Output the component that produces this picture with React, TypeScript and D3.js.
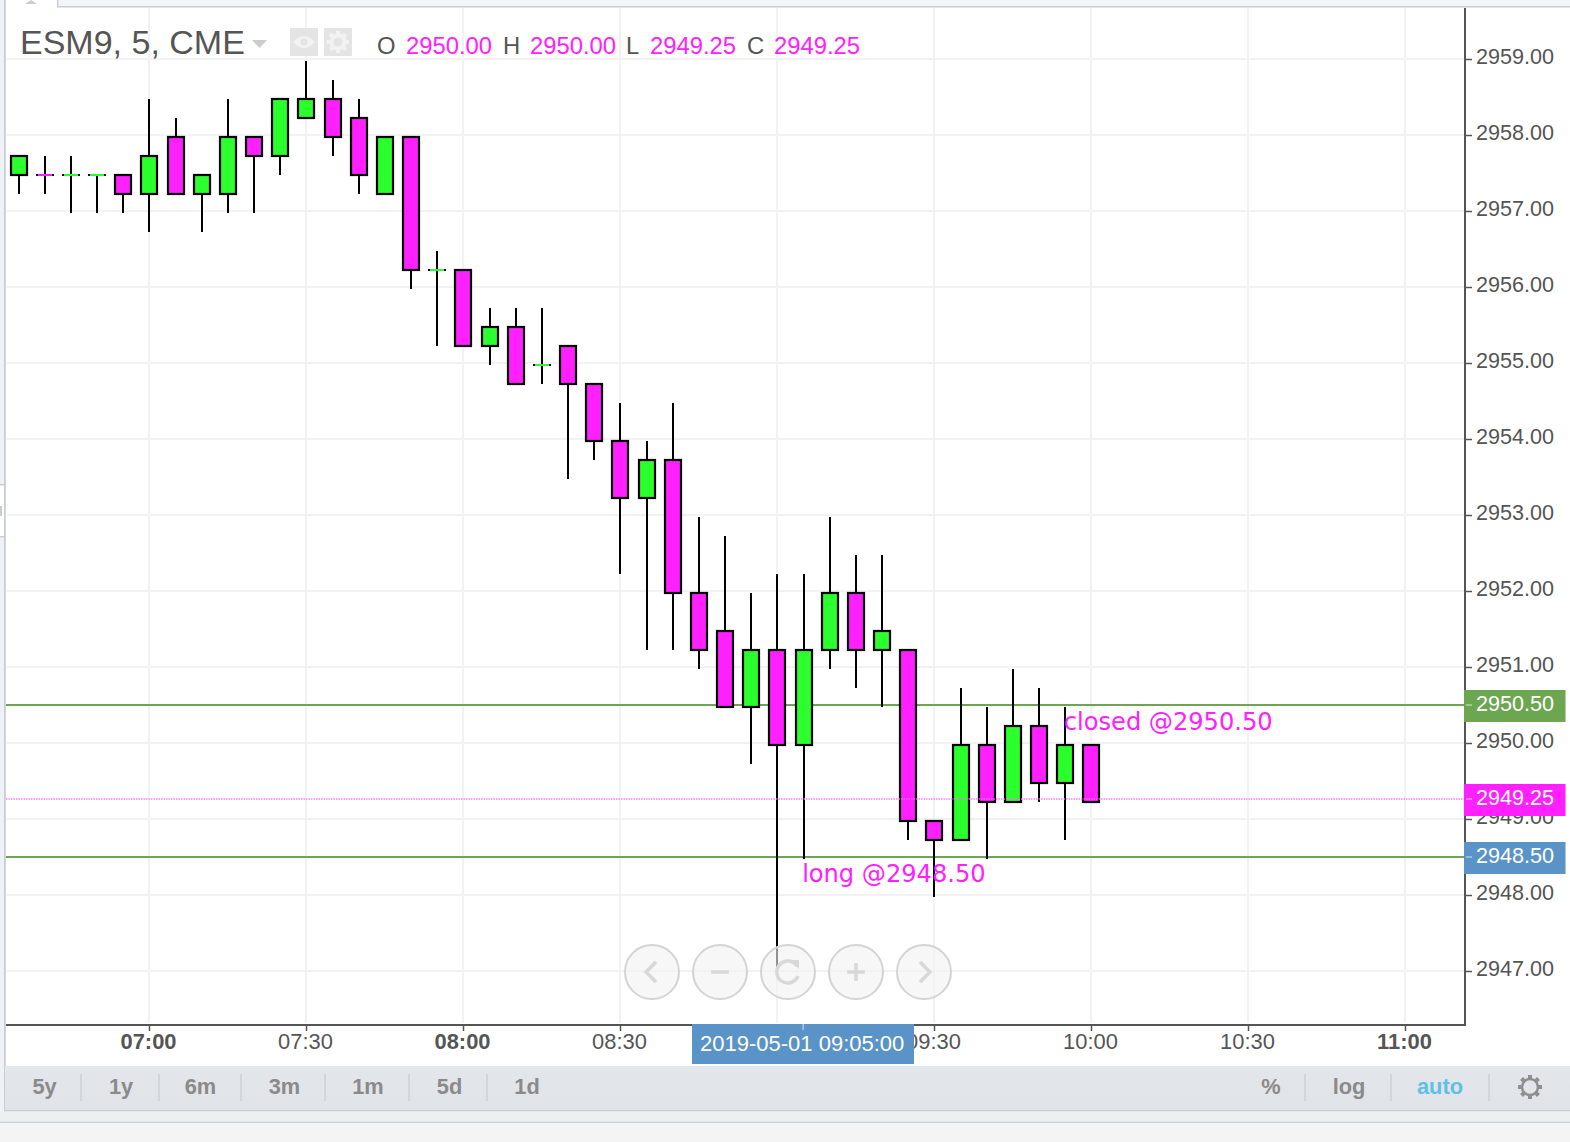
import React, { useRef, useEffect } from "react";
import * as d3 from "d3";

const width = 1570;
const height = 1142;

const times = [
  "06:35", "06:40", "06:45", "06:50", "06:55", "07:00", "07:05", "07:10", "07:15", "07:20", "07:25", "07:30", "07:35", "07:40",
  "07:45", "07:50", "07:55", "08:00", "08:05", "08:10", "08:15", "08:20", "08:25", "08:30", "08:35", "08:40", "08:45", "08:50",
  "08:55", "09:00", "09:05", "09:10", "09:15", "09:20", "09:25", "09:30", "09:35", "09:40", "09:45", "09:50", "09:55", "10:00",
];
const opens = [
  2957.5, 2957.5, 2957.5, 2957.5, 2957.5, 2957.25, 2958, 2957.25, 2957.25, 2958, 2957.75, 2958.25, 2958.5, 2958.25,
  2957.25, 2958, 2956.25, 2956.25, 2955.25, 2955.5, 2955, 2955.25, 2954.75, 2954, 2953.25, 2953.75, 2952, 2951.5,
  2950.5, 2951.25, 2950, 2951.25, 2952, 2951.25, 2951.25, 2949, 2948.75, 2950, 2949.25, 2950.25, 2949.5, 2950,
];
const highs = [
  2957.75, 2957.75, 2957.75, 2957.5, 2957.5, 2958.5, 2958.25, 2957.5, 2958.5, 2958, 2958.5, 2959, 2958.75, 2958.5,
  2958, 2958, 2956.5, 2956.25, 2955.75, 2955.75, 2955.75, 2955.25, 2954.75, 2954.5, 2954, 2954.5, 2953, 2952.75,
  2952, 2952.25, 2952.25, 2953, 2952.5, 2952.5, 2951.25, 2949, 2950.75, 2950.5, 2951, 2950.75, 2950.5, 2950,
];
const lows = [
  2957.25, 2957.25, 2957, 2957, 2957, 2956.75, 2957.25, 2956.75, 2957, 2957, 2957.5, 2958.25, 2957.75, 2957.25,
  2957.25, 2956, 2955.25, 2955.25, 2955, 2954.75, 2954.75, 2953.5, 2953.75, 2952.25, 2951.25, 2951.25, 2951, 2950.5,
  2949.75, 2947, 2948.5, 2951, 2950.75, 2950.5, 2948.75, 2948, 2948.75, 2948.5, 2949.25, 2949.25, 2948.75, 2949.25,
];
const closes = [
  2957.75, 2957.5, 2957.5, 2957.5, 2957.25, 2957.75, 2957.25, 2957.5, 2958, 2957.75, 2958.5, 2958.5, 2958, 2957.5,
  2958, 2956.25, 2956.25, 2955.25, 2955.5, 2954.75, 2955, 2954.75, 2954, 2953.25, 2953.75, 2952, 2951.25, 2950.5,
  2951.25, 2950, 2951.25, 2952, 2951.25, 2951.5, 2949, 2948.75, 2950, 2949.25, 2950.25, 2949.5, 2950, 2949.25,
];
// flat bars that the chart colours magenta, the other flat bars are green
const flatDown = ["06:40"];

const priceTicks = [2959, 2958, 2957, 2956, 2955, 2954, 2953, 2952, 2951, 2950, 2949, 2948, 2947];
const timeTicks = ["07:00", "07:30", "08:00", "08:30", "09:00", "09:30", "10:00", "10:30", "11:00"];
const boldTicks = ["07:00", "08:00", "09:00", "11:00"];
const rangesLeft = ["5y", "1y", "6m", "3m", "1m", "5d", "1d"];

const GREEN = "#2bff2d";
const MAGENTA = "#ff20ff";
const LINE_GREEN = "#6ca651";
const BLUE = "#5a93c8";
const GRID = "#f2f2f2";
const AXIS = "#555";
const SANS = "'Liberation Sans', Arial, sans-serif";

const parse = d3.utcParse("%H:%M");

export default function App() {
  const ref = useRef<SVGSVGElement | null>(null);

  useEffect(() => {
    const svg = d3.select(ref.current);
    svg.selectAll("*").remove();
    svg.attr("font-family", SANS);

    const x = d3
      .scaleUtc()
      .domain([parse("07:00")!, parse("11:00")!])
      .range([149, 1405]);
    const y = d3.scaleLinear().domain([2959, 2947]).range([59, 971]);

    const plotL = 6;
    const plotR = 1465;
    const plotT = 8;
    const plotB = 1025;

    const candles = times.map((t, i) => ({
      t,
      o: opens[i],
      h: highs[i],
      l: lows[i],
      c: closes[i],
      x: Math.ceil(x(parse(t)!)),
    }));

    // page chrome
    svg.append("rect").attr("width", width).attr("height", height).attr("fill", "#fff");
    svg.append("rect").attr("width", width).attr("height", 7).attr("fill", "#f2f5f8");
    svg.append("rect").attr("width", 57).attr("height", 7).attr("x", 0).attr("fill", "#fff");
    svg.append("rect").attr("x", 57).attr("y", 0).attr("width", 1.5).attr("height", 7).attr("fill", "#c8ced3");
    svg.append("rect").attr("x", 57).attr("y", 6).attr("width", width).attr("height", 1.5).attr("fill", "#c8ced3");
    svg.append("path").attr("d", "M25,4 L31,0 L37,4 Z").attr("fill", "#ccc");
    svg.append("rect").attr("x", 0).attr("y", 0).attr("width", 4).attr("height", 1112).attr("fill", "#eef2f6");
    svg.append("rect").attr("x", 4).attr("y", 0).attr("width", 1.8).attr("height", 1112).attr("fill", "#c8ced3");
    svg.append("rect").attr("x", 0).attr("y", 484).attr("width", 4).attr("height", 52).attr("fill", "#fff");
    svg.append("rect").attr("x", 0).attr("y", 484).attr("width", 4).attr("height", 1.5).attr("fill", "#c8ced3");
    svg.append("rect").attr("x", 0).attr("y", 536).attr("width", 4).attr("height", 1.5).attr("fill", "#c8ced3");
    svg.append("rect").attr("x", 0).attr("y", 506).attr("width", 2).attr("height", 10).attr("fill", "#ccc");

    // grid
    const grid = svg.append("g").attr("stroke", GRID).attr("stroke-width", 2);
    grid
      .selectAll("line.h")
      .data(priceTicks)
      .enter()
      .append("line")
      .attr("x1", plotL + 1)
      .attr("x2", plotR)
      .attr("y1", (d) => y(d))
      .attr("y2", (d) => y(d));
    grid
      .selectAll("line.v")
      .data(timeTicks)
      .enter()
      .append("line")
      .attr("x1", (d) => x(parse(d)!))
      .attr("x2", (d) => x(parse(d)!))
      .attr("y1", plotT)
      .attr("y2", plotB - 2);

    // axes
    const yAxis = svg
      .append("g")
      .attr("transform", `translate(${plotR},0)`)
      .call(d3.axisRight(y).tickValues(priceTicks).tickSize(7).tickPadding(4).tickFormat(d3.format(".2f") as any));
    yAxis.select(".domain").remove();
    yAxis.selectAll("line").attr("stroke", AXIS).attr("stroke-width", 1.5);
    yAxis.selectAll("text").attr("font-size", 21.6).attr("font-family", SANS).attr("fill", AXIS).attr("y", -2);

    const xAxis = svg
      .append("g")
      .attr("transform", `translate(0,${plotB})`)
      .call(
        d3
          .axisBottom(x)
          .tickValues(timeTicks.map((t) => parse(t)!))
          .tickSize(6)
          .tickPadding(2)
          .tickFormat(d3.utcFormat("%H:%M") as any)
      );
    xAxis.select(".domain").remove();
    xAxis.selectAll("line").attr("stroke", AXIS).attr("stroke-width", 1.5);
    xAxis
      .selectAll("text")
      .attr("font-size", 21.9)
      .attr("font-family", SANS)
      .attr("fill", AXIS)
      .attr("x", -1)
      .attr("font-weight", (d: any) => (boldTicks.includes(d3.utcFormat("%H:%M")(d)) ? "bold" : "normal"));

    svg.append("line").attr("x1", plotL).attr("x2", plotR + 1).attr("y1", plotB).attr("y2", plotB).attr("stroke", AXIS).attr("stroke-width", 2);
    svg.append("line").attr("x1", plotR).attr("x2", plotR).attr("y1", plotT).attr("y2", plotB).attr("stroke", AXIS).attr("stroke-width", 2);

    // price lines
    svg.append("line").attr("x1", plotL).attr("x2", plotR - 1).attr("y1", y(2950.5)).attr("y2", y(2950.5)).attr("stroke", LINE_GREEN).attr("stroke-width", 1.8);
    svg.append("line").attr("x1", plotL).attr("x2", plotR - 1).attr("y1", y(2948.5)).attr("y2", y(2948.5)).attr("stroke", LINE_GREEN).attr("stroke-width", 1.8);

    // candles
    const bars = svg.append("g").attr("transform", "translate(0,2)");
    const wick = bars.append("g").attr("stroke", "#000").attr("stroke-width", 2);
    wick
      .selectAll("line")
      .data(candles)
      .enter()
      .append("line")
      .attr("x1", (d) => d.x)
      .attr("x2", (d) => d.x)
      .attr("y1", (d) => y(d.h))
      .attr("y2", (d) => y(d.l));
    const solid = candles.filter((d) => d.o !== d.c);
    bars
      .selectAll("rect")
      .data(solid)
      .enter()
      .append("rect")
      .attr("x", (d) => d.x - 8)
      .attr("width", 16)
      .attr("y", (d) => y(Math.max(d.o, d.c)))
      .attr("height", (d) => y(Math.min(d.o, d.c)) - y(Math.max(d.o, d.c)))
      .attr("fill", (d) => (d.c > d.o ? GREEN : MAGENTA))
      .attr("stroke", "#000")
      .attr("stroke-width", 2.2);
    const flat = candles.filter((d) => d.o === d.c);
    bars
      .selectAll("line.flat")
      .data(flat)
      .enter()
      .append("line")
      .attr("class", "flat")
      .attr("x1", (d) => d.x - 9)
      .attr("x2", (d) => d.x + 9)
      .attr("y1", (d) => y(d.o))
      .attr("y2", (d) => y(d.o))
      .attr("stroke", "#000")
      .attr("stroke-width", 2);
    bars
      .selectAll("line.flatc")
      .data(flat)
      .enter()
      .append("line")
      .attr("class", "flatc")
      .attr("x1", (d) => d.x - 7)
      .attr("x2", (d) => d.x + 7)
      .attr("y1", (d) => y(d.o))
      .attr("y2", (d) => y(d.o))
      .attr("stroke", (d) => (flatDown.includes(d.t) ? MAGENTA : GREEN))
      .attr("stroke-width", 2);

    // last price line on top of candles
    svg
      .append("line")
      .attr("x1", plotL)
      .attr("x2", plotR - 1)
      .attr("y1", y(2949.25) - 1)
      .attr("y2", y(2949.25) - 1)
      .attr("stroke", "#ff6bfb")
      .attr("stroke-width", 1.7)
      .attr("stroke-dasharray", "1.5 1")
      .attr("opacity", 0.85);

    // annotations
    const notes = [
      { text: "closed @2950.50", t: "09:55", v: 2950.5, dy: 24.5 },
      { text: "long @2948.50", t: "09:05", v: 2948.5, dy: 24.5 },
    ];
    svg
      .selectAll("text.note")
      .data(notes)
      .enter()
      .append("text")
      .attr("class", "note")
      .attr("x", (d) => x(parse(d.t)!) - 1)
      .attr("y", (d) => y(d.v) + d.dy)
      .attr("font-family", "'DejaVu Sans'")
      .attr("font-size", 24.1)
      .attr("fill", MAGENTA)
      .text((d) => d.text);

    // price tags
    const tags = [
      { v: 2950.5, fill: LINE_GREEN, dy: 0 },
      { v: 2949.25, fill: MAGENTA, dy: -1 },
      { v: 2948.5, fill: BLUE, dy: 0 },
    ];
    const tag = svg.selectAll("g.tag").data(tags).enter().append("g").attr("class", "tag");
    tag
      .append("rect")
      .attr("x", plotR - 1)
      .attr("y", (d) => y(d.v) + d.dy - 15)
      .attr("width", 101.5)
      .attr("height", 32)
      .attr("fill", (d) => d.fill);
    tag
      .append("line")
      .attr("x1", plotR + 1)
      .attr("x2", plotR + 7)
      .attr("y1", (d) => y(d.v) + d.dy)
      .attr("y2", (d) => y(d.v) + d.dy)
      .attr("stroke", "#fff")
      .attr("stroke-opacity", 0.5)
      .attr("stroke-width", 1.5);
    tag
      .append("text")
      .attr("x", plotR + 11)
      .attr("y", (d) => y(d.v) + d.dy + 6)
      .attr("font-size", 21.6)
      .attr("fill", "#fff")
      .text((d) => d3.format(".2f")(d.v));

    // crosshair time tag
    const crossX = x(parse("09:05")!);
    svg.append("rect").attr("x", 692).attr("y", plotB - 1).attr("width", 222).attr("height", 40).attr("fill", BLUE);
    svg.append("line").attr("x1", crossX).attr("x2", crossX).attr("y1", plotB - 1).attr("y2", plotB + 5).attr("stroke", "#fff").attr("stroke-opacity", 0.5).attr("stroke-width", 1.5);
    svg.append("text").attr("x", crossX - 1).attr("y", 1051).attr("text-anchor", "middle").attr("font-size", 22).attr("fill", "#fff").text("2019-05-01 09:05:00");

    // legend
    svg.append("text").attr("x", 20).attr("y", 54).attr("font-size", 34).attr("fill", AXIS).text("ESM9, 5, CME");
    svg.append("path").attr("d", "M252,40 L267,40 L259.5,48 Z").attr("fill", "#ccc");
    svg.append("rect").attr("x", 290).attr("y", 28).attr("width", 28).attr("height", 28).attr("fill", "#e4e4e4");
    svg.append("rect").attr("x", 324).attr("y", 28).attr("width", 28).attr("height", 28).attr("fill", "#e4e4e4");
    svg.append("path").attr("d", "M293,42 Q304,30 315,42 Q304,54 293,42 Z").attr("fill", "#f2f2f2");
    svg.append("circle").attr("cx", 304).attr("cy", 42).attr("r", 3.5).attr("fill", "#e4e4e4");
    const cog = svg.append("g").attr("transform", "translate(338,42)").attr("fill", "#f2f2f2");
    cog.append("circle").attr("r", 6.5).attr("fill", "none").attr("stroke", "#f2f2f2").attr("stroke-width", 4);
    cog
      .selectAll("rect")
      .data(d3.range(8))
      .enter()
      .append("rect")
      .attr("x", -2)
      .attr("y", -11)
      .attr("width", 4)
      .attr("height", 4)
      .attr("transform", (d) => `rotate(${d * 45})`);

    const ohlc = [
      { k: "O", kx: 377, v: "2950.00", vx: 406 },
      { k: "H", kx: 503, v: "2950.00", vx: 530 },
      { k: "L", kx: 626, v: "2949.25", vx: 650 },
      { k: "C", kx: 747, v: "2949.25", vx: 774 },
    ];
    const leg = svg.selectAll("g.ohlc").data(ohlc).enter().append("g").attr("class", "ohlc").attr("font-size", 23.8);
    leg.append("text").attr("x", (d) => d.kx).attr("y", 54).attr("fill", AXIS).text((d) => d.k);
    leg.append("text").attr("x", (d) => d.vx).attr("y", 54).attr("fill", MAGENTA).text((d) => d.v);

    // nav buttons
    const navX = d3.scalePoint<string>().domain(["left", "minus", "reset", "plus", "right"]).range([652, 924]);
    const nav = svg
      .selectAll("g.nav")
      .data(navX.domain())
      .enter()
      .append("g")
      .attr("class", "nav")
      .attr("transform", (d) => `translate(${navX(d)},972)`);
    nav.append("circle").attr("r", 27).attr("fill", "#f2f2f2").attr("fill-opacity", 0.6).attr("stroke", "#d4d4d4").attr("stroke-width", 2);
    const icons: Record<string, string> = {
      left: "M4,-10 L-6,0 L4,10",
      minus: "M-9,0 L9,0",
      plus: "M-9,0 L9,0 M0,-9 L0,9",
      right: "M-4,-10 L6,0 L-4,10",
      reset: "M9,-6 A11,11 0 1 0 10,4",
    };
    nav
      .append("path")
      .attr("d", (d) => icons[d])
      .attr("fill", "none")
      .attr("stroke", "#d8d8d8")
      .attr("stroke-width", 3.5);
    svg.append("path").attr("d", "M790,960 L799,960 L799,969 Z").attr("fill", "#d8d8d8");

    // range bar
    const defs = svg.append("defs");
    const grad = defs.append("linearGradient").attr("id", "bar").attr("x1", 0).attr("y1", 0).attr("x2", 0).attr("y2", 1);
    grad.append("stop").attr("offset", 0).attr("stop-color", "#e3e6eb");
    grad.append("stop").attr("offset", 1).attr("stop-color", "#e0e3e8");
    svg.append("rect").attr("x", 5).attr("y", 1066).attr("width", width - 5).attr("height", 44).attr("fill", "url(#bar)");
    svg.append("rect").attr("x", 4).attr("y", 1110).attr("width", width).attr("height", 1.5).attr("fill", "#c8ccd0");
    svg.append("rect").attr("x", 0).attr("y", 1111.5).attr("width", width).attr("height", 10).attr("fill", "#ecf0f3");
    svg.append("rect").attr("x", 0).attr("y", 1121.5).attr("width", width).attr("height", 1.5).attr("fill", "#d0d0d0");
    svg.append("rect").attr("x", 0).attr("y", 1123).attr("width", width).attr("height", 19).attr("fill", "#f4f4f4");

    const leftX = [44.5, 121, 200.5, 284.5, 368, 449.5, 527];
    const rightItems = [
      { text: "%", x: 1271, fill: "#8a8a8a" },
      { text: "log", x: 1349, fill: "#8a8a8a" },
      { text: "auto", x: 1440, fill: "#5fc0e3" },
    ];
    const barText = svg.append("g").attr("font-size", 21.8).attr("font-weight", "bold").attr("text-anchor", "middle");
    barText
      .selectAll("text.l")
      .data(rangesLeft)
      .enter()
      .append("text")
      .attr("x", (_, i) => leftX[i])
      .attr("y", 1094)
      .attr("fill", "#8a8a8a")
      .text((d) => d);
    barText
      .selectAll("text.r")
      .data(rightItems)
      .enter()
      .append("text")
      .attr("class", "r")
      .attr("x", (d) => d.x)
      .attr("y", 1094)
      .attr("fill", (d) => d.fill)
      .text((d) => d.text);
    svg
      .append("g")
      .attr("stroke", "#cdd0d5")
      .attr("stroke-width", 1.5)
      .selectAll("line")
      .data([81, 159, 241, 325, 409, 487, 1305, 1391, 1489])
      .enter()
      .append("line")
      .attr("x1", (d) => d)
      .attr("x2", (d) => d)
      .attr("y1", 1074)
      .attr("y2", 1101);

    // settings gear
    const gear = svg.append("g").attr("transform", "translate(1530,1087)");
    gear.append("circle").attr("r", 8).attr("fill", "none").attr("stroke", "#8f8f8f").attr("stroke-width", 2.5);
    gear
      .selectAll("rect")
      .data(d3.range(8))
      .enter()
      .append("rect")
      .attr("x", -2)
      .attr("y", -12)
      .attr("width", 4)
      .attr("height", 3.5)
      .attr("fill", "#8f8f8f")
      .attr("transform", (d) => `rotate(${d * 45})`);
  }, []);

  return <svg ref={ref} width={width} height={height} style={{ position: "fixed", left: 0, top: 0 }} />;
}
